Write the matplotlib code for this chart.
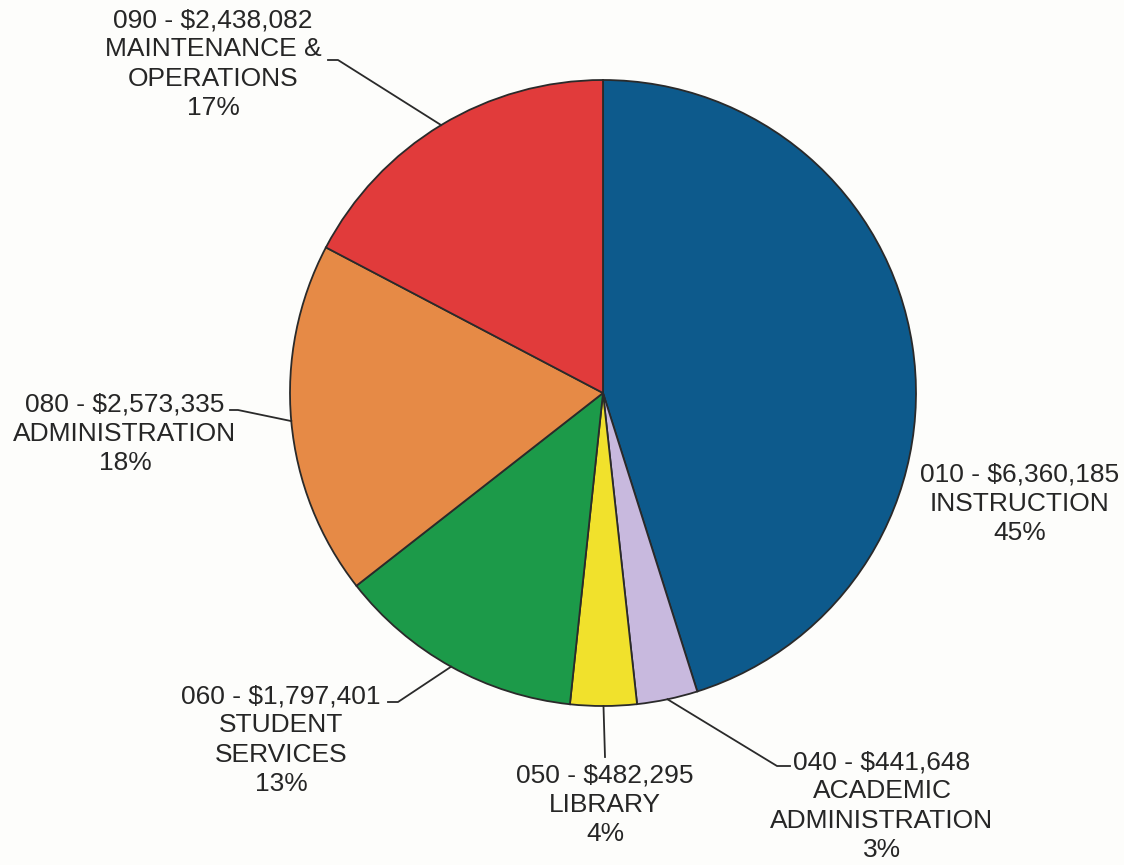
import matplotlib.pyplot as plt
import numpy as np

plt.rcParams['font.family'] = ['Liberation Sans', 'DejaVu Sans']

# data
codes = ["010", "040", "050", "060", "080", "090"]
names = ["INSTRUCTION", "ACADEMIC\nADMINISTRATION", "LIBRARY",
         "STUDENT\nSERVICES", "ADMINISTRATION", "MAINTENANCE &\nOPERATIONS"]
amounts = [6360185, 441648, 482295, 1797401, 2573335, 2438082]
pcts = [45, 3, 4, 13, 18, 17]
colors = ["#0d5a8c", "#c8b9de", "#f1e12c", "#1c9a49", "#e68a46", "#e13b3b"]

W, H = 1124, 865
fig = plt.figure(figsize=(W / 100, H / 100), dpi=100)
fig.patch.set_facecolor("#fdfdfb")
ax = fig.add_axes([0, 0, 1, 1])

cx, cy, r = 603, H - 393, 313
wedges, _ = ax.pie(amounts, colors=colors, startangle=90, counterclock=False,
                   center=(cx, cy), radius=r, frame=True,
                   wedgeprops=dict(edgecolor="#2a2a2a", linewidth=1.3))
ax.set_xlim(0, W)
ax.set_ylim(0, H)
ax.set_aspect("equal")
ax.axis("off")

# label block centres (pixel coords, y from top) and leader elbows
label_pos = [(1020, 504), (882, 806), (605, 805), (281, 740), (125, 434), (213, 64)]
leaders = [None,
           [(777, 766), (790, 766)],
           [(605, 757)],
           [(398, 702), (388, 702)],
           [(238, 410), (230, 410)],
           [(338, 60), (328, 60)]]

for w, code, name, amt, pct, pos, lead in zip(wedges, codes, names, amounts,
                                               pcts, label_pos, leaders):
    txt = f"{code} - ${amt:,}\n{name}\n{pct}%"
    ax.text(pos[0], H - pos[1], txt, ha="center", va="center", fontsize=19,
            color="#262626", linespacing=1.27)
    if lead:
        ang = np.deg2rad((w.theta1 + w.theta2) / 2)
        xs = [cx + r * np.cos(ang)] + [p[0] for p in lead]
        ys = [cy + r * np.sin(ang)] + [H - p[1] for p in lead]
        ax.plot(xs, ys, color="#2a2a2a", lw=1.3)

fig.savefig("out.png", dpi=100, facecolor=fig.get_facecolor())
